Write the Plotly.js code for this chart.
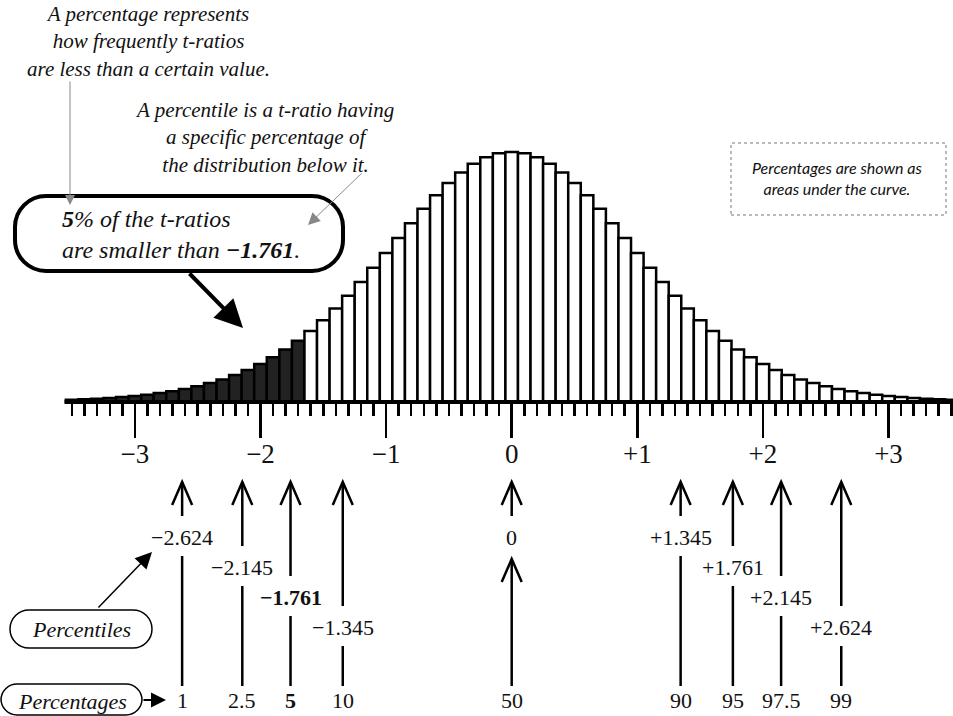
<!DOCTYPE html>
<html><head><meta charset="utf-8">
<script src="https://cdn.plot.ly/plotly-3.0.1.min.js"></script>
<style>html,body{margin:0;padding:0;background:#fff;} #chart{width:953px;height:716px;}</style>
</head><body><div id="chart"></div>
<script>
// ---------------- data ----------------
const tValues = [-3.5,-3.4,-3.3,-3.2,-3.1,-3.0,-2.9,-2.8,-2.7,-2.6,-2.5,-2.4,-2.3,-2.2,-2.1,-2.0,-1.9,-1.8,-1.7,-1.6,-1.5,-1.4,-1.3,-1.2,-1.1,-1.0,-0.9,-0.8,-0.7,-0.6,-0.5,-0.4,-0.3,-0.2,-0.1,0,
  0.1,0.2,0.3,0.4,0.5,0.6,0.7,0.8,0.9,1.0,1.1,1.2,1.3,1.4,1.5,1.6,1.7,1.8,1.9,2.0,2.1,2.2,2.3,2.4,2.5,2.6,2.7,2.8,2.9,3.0,3.1,3.2,3.3,3.4,3.5];
const barHeights = [0.0035,0.0043,0.0052,0.0064,0.0078,0.0095,0.0115,0.0140,0.0169,0.0204,0.0246,0.0296,0.0354,0.0423,0.0503,0.0595,0.0701,0.0822,0.0959,0.1112,0.1282,0.1467,0.1667,0.1881,0.2104,0.2336,0.2570,0.2803,0.3028,0.3239,0.3432,0.3599,0.3735,0.3836,0.3898,0.3919,
  0.3898,0.3836,0.3735,0.3599,0.3432,0.3239,0.3028,0.2803,0.2570,0.2336,0.2104,0.1881,0.1667,0.1467,0.1282,0.1112,0.0959,0.0822,0.0701,0.0595,0.0503,0.0423,0.0354,0.0296,0.0246,0.0204,0.0169,0.0140,0.0115,0.0095,0.0078,0.0064,0.0052,0.0043,0.0035];
const shadeLimit = -1.7;
const majorTicks = [-3,-2,-1,0,1,2,3];
const majorTickText = ['\u22123','\u22122','\u22121','0','+1','+2','+3'];
const percentileValues = [-2.624,-2.145,-1.761,-1.345,0,1.345,1.761,2.145,2.624];
const percentileText = ['\u22122.624','\u22122.145','\u22121.761','\u22121.345','0','+1.345','+1.761','+2.145','+2.624'];
const percentageText = ['1','2.5','5','10','50','90','95','97.5','99'];
const labelLevel = [0,1,2,3,0,0,1,2,3];
const boldIndex = 2;
const noteTopLeft = ['A percentage represents','how frequently t-ratios','are less than a certain value.'];
const noteTopMid = ['A percentile is a t-ratio having','a specific percentage of','the distribution below it.'];
const noteBox = ['Percentages are shown as','areas under the curve.'];
const calloutLines = ['<b>5</b>% of the t-ratios','are smaller than <b>\u22121.761</b>.'];

// ---------------- geometry ----------------
const W = 953, H = 716;
const X0PX = 511.7, XSCALE = 125.6;   // pixel of t=0, pixels per unit
const BASEPX = 402, YSCALE = 638;     // pixel of baseline, pixels per density unit
const INK = '#111';
const SERIF = 'Liberation Serif, Times New Roman, serif';
const PX = x => x / W;
const PY = y => 1 - y / H;

const barColors = tValues.map(t => t <= shadeLimit + 1e-9 ? '#222' : '#fff');

const shapes = [];
const annotations = [];

// baseline
shapes.push({type:'line', xref:'x', yref:'y', x0:-3.56, x1:3.7, y0:0, y1:0, line:{color:'#000', width:4}});

// rounded rectangles
function rrect(x0,y0,x1,y1,r,width,dash,color){
  const k = 0.5523*r;
  const p = (x,y) => PX(x).toFixed(5)+','+PY(y).toFixed(5);
  const d = 'M'+p(x0+r,y0)+' L'+p(x1-r,y0)+
    ' C'+p(x1-r+k,y0)+' '+p(x1,y0+r-k)+' '+p(x1,y0+r)+
    ' L'+p(x1,y1-r)+
    ' C'+p(x1,y1-r+k)+' '+p(x1-r+k,y1)+' '+p(x1-r,y1)+
    ' L'+p(x0+r,y1)+
    ' C'+p(x0+r-k,y1)+' '+p(x0,y1-r+k)+' '+p(x0,y1-r)+
    ' L'+p(x0,y0+r)+
    ' C'+p(x0,y0+r-k)+' '+p(x0+r-k,y0)+' '+p(x0+r,y0)+' Z';
  shapes.push({type:'path', xref:'paper', yref:'paper', path:d, line:{color:color||'#000', width:width, dash:dash||'solid'}});
}
rrect(15,196,343,271,31,4);
rrect(10,610,152,648,19,1.5);
rrect(1,684,142,715,16,1.5);
shapes.push({type:'rect', xref:'paper', yref:'paper', x0:PX(731), x1:PX(946), y0:PY(215), y1:PY(143), line:{color:'#777', width:1, dash:'dot'}});

// percentile arrows
const HEAD_TIP = 482, HEAD_LEN = 23, HEAD_HALF = 10, LINE_END = 686, NUMBER_Y = 700;
const dxHead = HEAD_HALF / XSCALE;
function vline(x,y0,y1){ shapes.push({type:'line', xref:'x', yref:'paper', x0:x, x1:x, y0:PY(y0), y1:PY(y1), line:{color:'#000', width:2.5}}); }
function chevron(x,tipY){
  shapes.push({type:'path', xref:'x', yref:'paper',
    path:'M'+(x-dxHead).toFixed(5)+','+PY(tipY+HEAD_LEN).toFixed(5)+' L'+x.toFixed(5)+','+PY(tipY).toFixed(5)+' L'+(x+dxHead).toFixed(5)+','+PY(tipY+HEAD_LEN).toFixed(5),
    line:{color:'#000', width:2.5}});
}
percentileValues.forEach((v,i) => {
  const labelY = 537 + 30*labelLevel[i];
  vline(v, HEAD_TIP, labelY - 21);
  chevron(v, HEAD_TIP);
  if (v === 0) { vline(v, 559, LINE_END); chevron(v, 559); }
  else vline(v, labelY + 19, LINE_END);
  const bold = i === boldIndex;
  annotations.push({xref:'x', yref:'paper', x:v, y:PY(labelY), text: bold ? '<b>'+percentileText[i]+'</b>' : percentileText[i],
    showarrow:false, xanchor:'center', yanchor:'middle', font:{family:SERIF, size:22, color:INK}});
  annotations.push({xref:'x', yref:'paper', x:v, y:PY(NUMBER_Y), text: bold ? '<b>'+percentageText[i]+'</b>' : percentageText[i],
    showarrow:false, xanchor:'center', yanchor:'middle', font:{family:SERIF, size:22, color:INK}});
});

// text blocks (one text element per block)
function textBlock(x,y,lines,size,anchor,family){
  annotations.push({xref:'paper', yref:'paper', x:PX(x), y:PY(y), text:lines.map(t => '<i>'+t+'</i>').join('<br>'), showarrow:false,
    xanchor:anchor||'center', yanchor:'middle', align:anchor==='left'?'left':'center',
    font:{family:family||SERIF, size:size, color:INK}});
}
textBlock(148, 42, noteTopLeft, 21);
textBlock(264, 137, noteTopMid, 21);
textBlock(837, 178, noteBox, 16, 'center', 'Lato, Noto Sans, sans-serif');
textBlock(60, 234, calloutLines, 24, 'left');
textBlock(81, 629, ['Percentiles'], 22);
textBlock(72, 701, ['Percentages'], 22);

// arrows
function arrow(tipX,tipY,tailX,tailY,color,width,head,size){
  annotations.push({xref:'paper', yref:'paper', x:PX(tipX), y:PY(tipY), ax:tailX-tipX, ay:tailY-tipY, text:'',
    showarrow:true, arrowcolor:color, arrowwidth:width, arrowhead:head, arrowsize:size, standoff:0, startstandoff:0});
}
arrow(70,205,70,80,'#888',1,2,2);
arrow(308,225,363,172,'#888',1,2,2.4);
arrow(243,328,188,272,'#000',4,2,1.4);
arrow(152,552,97,609,'#000',1.5,2,2.2);
arrow(166,700,142,700,'#000',2,2,1.5);

const trace = {type:'bar', x:tValues, y:barHeights, width:0.1,
  marker:{color:barColors, line:{color:'#000', width:2.5}}, hoverinfo:'skip'};

const layout = {
  width:W, height:H, margin:{l:0,r:0,t:0,b:0}, paper_bgcolor:'#fff', plot_bgcolor:'rgba(0,0,0,0)',
  showlegend:false, bargap:0,
  xaxis:{range:[-X0PX/XSCALE, (W-X0PX)/XSCALE], anchor:'free', position:(H-BASEPX)/H,
    showgrid:false, zeroline:false, showline:false,
    tickmode:'array', tickvals:majorTicks, ticktext:majorTickText,
    ticks:'outside', ticklen:35, tickwidth:2.5, tickcolor:'#000', ticklabelstandoff:-7,
    tickfont:{family:SERIF, size:27, color:INK},
    minor:{tickmode:'array', tickvals:tValues, ticks:'outside', ticklen:13, tickwidth:2.5, tickcolor:'#000', showgrid:false},
    fixedrange:true},
  yaxis:{range:[-(H-BASEPX)/YSCALE, BASEPX/YSCALE], visible:false, showgrid:false, zeroline:false, fixedrange:true},
  shapes:shapes, annotations:annotations
};
Plotly.newPlot('chart',[trace],layout,{staticPlot:true, displayModeBar:false});
</script></body></html>
